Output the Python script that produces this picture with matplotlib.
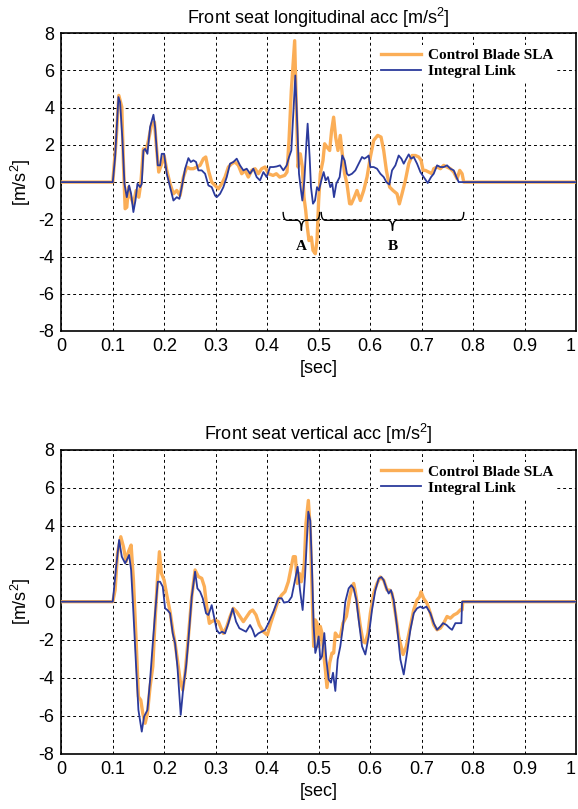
import matplotlib
matplotlib.use("Agg")
import matplotlib.pyplot as plt
from matplotlib.path import Path
from matplotlib.patches import PathPatch

plt.rcParams["font.family"] = ["Liberation Sans", "DejaVu Sans"]
plt.rcParams["mathtext.default"] = "regular"
plt.rcParams["axes.unicode_minus"] = False

'''[1]: data read off the reference'''
lon_t_sla = [0, 0.1, 0.1065, 0.1117, 0.1175, 0.1207, 0.124, 0.1272, 0.1304, 0.135, 0.140, 0.1453, 0.1505,
             0.1544, 0.1595, 0.1647, 0.1693, 0.1757, 0.1809, 0.1854, 0.1893, 0.1951, 0.1997, 0.2049, 0.2113,
             0.2178, 0.2243, 0.2307, 0.2372, 0.2437, 0.2502, 0.2566, 0.2631, 0.2696, 0.2761, 0.2806, 0.2858,
             0.2922, 0.2987, 0.3052, 0.3117, 0.3181, 0.3246, 0.3311, 0.3375, 0.3440, 0.3505, 0.3570, 0.3634,
             0.3699, 0.3764, 0.3828, 0.3893, 0.3958, 0.4023, 0.4114, 0.4178, 0.4243, 0.434, 0.4385, 0.4424,
             0.4469, 0.4534, 0.4566, 0.4599, 0.4644, 0.4683, 0.4715, 0.4748, 0.478, 0.4812, 0.4858, 0.489,
             0.4935, 0.4968, 0.5, 0.5032, 0.5084, 0.5116, 0.5162, 0.5214, 0.5252, 0.5291, 0.533, 0.5375,
             0.542, 0.5459, 0.5505, 0.555, 0.5602, 0.5635, 0.5693, 0.5745, 0.581, 0.5875, 0.594, 0.6005,
             0.6069, 0.6147, 0.6212, 0.6264, 0.6316, 0.638, 0.6445, 0.6523, 0.6568, 0.662, 0.6685, 0.675,
             0.6815, 0.6879, 0.6944, 0.699, 0.7029, 0.7074, 0.7139, 0.7204, 0.7236, 0.7301, 0.7366, 0.743,
             0.7495, 0.756, 0.7625, 0.769, 0.7741, 0.7787, 0.7819, 1.0]
lon_sla = [0, 0, 2.24, 4.66, 4.04, 0.99, -1.43, -1.35, -0.27, -0.81, -1.17, -0.45, -0.81,
           -0.09, 1.79, 1.70, 2.24, 3.14, 3.23, 1.70, 0.54, 0.99, 1.43, 0.63, -0.09,
           -0.63, -0.45, -0.72, 0.27, 0.81, 0.72, 0.72, 0.81, 0.90, 1.26, 1.35, 0.63,
           0, -0.18, -0.36, -0.09, 0.27, 0.81, 0.99, 1.08, 0.90, 0.45, 0.63, 0.27,
           0.63, 0.72, 0.45, 0.72, 0.81, 0.45, 0.36, 0.45, 0.27, 0.36, 0.54, 2.24,
           4.93, 7.6, 4.03, 0.81, 1.52, 0.81, -0.81, -1.52, -2.42, -3.14, -2.96, -3.67,
           -3.85, -3.14, -0.99, 0.45, 1.16, 2.06, 1.88, 1.70, 2.78, 3.49, 2.42, 1.70,
           2.51, 1.52, 0.45, -0.09, -1.16, -1.17, -0.81, -0.45, -0.99, -0.45, 0.27, 1.35,
           2.24, 2.51, 2.42, 1.70, 0.63, -0.27, -0.45, -0.63, -1.17, -0.63, 0.09, 0.99,
           1.43, 1.43, 1.35, 1.17, 0.63, 0.63, 0.54, 0.45, 0.72, 0.81, 0.72, 0.90,
           0.81, 0.72, 0.54, 0.18, 0.63, 0.45, 0, 0]

lon_t_link = [0, 0.1, 0.1045, 0.111, 0.1142, 0.1188, 0.1227, 0.1272, 0.1317, 0.1356, 0.140, 0.144, 0.1479,
              0.1531, 0.1563, 0.1595, 0.1628, 0.1673, 0.1725, 0.179, 0.1822, 0.1874, 0.1919, 0.1951, 0.1997,
              0.2049, 0.2113, 0.2178, 0.2243, 0.2294, 0.234, 0.2405, 0.2469, 0.2515, 0.2566, 0.2618, 0.2663,
              0.2728, 0.2793, 0.2858, 0.2922, 0.2987, 0.3019, 0.3084, 0.3149, 0.3214, 0.3278, 0.3343, 0.3408,
              0.3472, 0.3537, 0.3602, 0.3667, 0.3731, 0.3796, 0.3861, 0.3926, 0.399, 0.4055, 0.412, 0.4184,
              0.4249, 0.4314, 0.4379, 0.4424, 0.4469, 0.4515, 0.4547, 0.4579, 0.4618, 0.4657, 0.4683, 0.4722,
              0.4761, 0.4786, 0.4825, 0.4851, 0.489, 0.4929, 0.4968, 0.5006, 0.5052, 0.5097, 0.5136, 0.5181,
              0.5226, 0.5265, 0.5298, 0.5343, 0.5408, 0.5459, 0.5505, 0.555, 0.5583, 0.5648, 0.5713, 0.5778,
              0.5843, 0.5888, 0.594, 0.5972, 0.6005, 0.6069, 0.6134, 0.6199, 0.6264, 0.6316, 0.6374, 0.6426,
              0.6491, 0.6555, 0.6607, 0.6653, 0.6704, 0.675, 0.6795, 0.6847, 0.6912, 0.6977, 0.7041, 0.7119,
              0.7184, 0.7236, 0.7301, 0.7366, 0.743, 0.7495, 0.756, 0.7625, 0.7677, 0.7722, 1.0]
lon_link = [0, 0, 1.35, 4.57, 4.30, 2.24, -0.09, -0.81, -0.18, -0.63, -1.61, -0.99, -0.09,
            -0.27, -0.09, 1.70, 1.79, 1.52, 2.96, 3.62, 2.96, 0.90, 0.90, 1.52, 1.52,
            0.45, -0.27, -0.99, -0.81, -0.90, -0.27, 0.72, 1.29, 1.08, 1.17, 1.08, 0.63,
            0.63, 0.45, -0.18, -0.27, -0.72, -0.81, -0.63, -0.27, 0.27, 0.99, 1.08, 1.26,
            0.90, 0.63, 0.72, 0.45, 0.72, 0.27, 0.09, 0.54, 0.27, 0.81, 0.81, 0.84,
            0.90, 0.63, 0.90, 1.34, 1.70, 4.03, 5.73, 3.49, 0.45, -0.45, -0.99, 0.09,
            2.06, 3.14, 1.34, -0.27, -1.16, -0.99, -0.27, -0.45, 0.09, 0.54, 0.09, 0.27,
            -0.27, -0.09, -0.81, -0.09, 0.27, 1.43, 1.16, 0.45, 0.36, 0.45, 0.63, 0.99,
            1.35, 1.26, 1.35, 1.43, 0.81, 0.81, 0.72, 0.45, 0.27, 0, -0.13, 0.63,
            0.90, 1.43, 1.26, 0.99, 1.26, 1.49, 1.26, 1.35, 0.99, 0.54, 0.27, -0.05,
            0.27, 0.45, 0.90, 0.81, 0.81, 0.90, 0.72, 0.63, 0.27, 0, 0]

ver_t_sla = [0, 0.1, 0.1045, 0.1091, 0.1155, 0.1207, 0.1259, 0.1304, 0.1356, 0.1401, 0.1453, 0.1498, 0.1544,
             0.1583, 0.1628, 0.1673, 0.1725, 0.1777, 0.1822, 0.1867, 0.1906, 0.1945, 0.1997, 0.2049, 0.2113,
             0.2165, 0.221, 0.2256, 0.2307, 0.2359, 0.2405, 0.2469, 0.2534, 0.2599, 0.2663, 0.2728, 0.278,
             0.2825, 0.2877, 0.2922, 0.2987, 0.3052, 0.3104, 0.3149, 0.3214, 0.3278, 0.3343, 0.3408, 0.3472,
             0.3537, 0.3602, 0.3667, 0.3718, 0.3783, 0.3848, 0.3926, 0.4003, 0.4068, 0.4152, 0.4217, 0.4281,
             0.4346, 0.4411, 0.4456, 0.4508, 0.4547, 0.4586, 0.4625, 0.4663, 0.4689, 0.4722, 0.4754, 0.4800,
             0.4838, 0.487, 0.4903, 0.4935, 0.4968, 0.5, 0.5032, 0.5065, 0.5097, 0.513, 0.5162, 0.5214,
             0.5259, 0.5292, 0.5324, 0.5369, 0.5421, 0.5473, 0.5538, 0.5603, 0.5648, 0.5681, 0.5713, 0.5758,
             0.581, 0.5862, 0.5907, 0.5959, 0.6005, 0.6069, 0.6134, 0.6199, 0.6264, 0.6329, 0.638, 0.6426,
             0.6491, 0.6555, 0.664, 0.6704, 0.6782, 0.6847, 0.6912, 0.6964, 0.699, 0.7041, 0.7106, 0.7171,
             0.7236, 0.7301, 0.7366, 0.743, 0.7495, 0.756, 0.7625, 0.769, 0.7754, 0.7787, 0.78, 1.0]
ver_sla = [0, 0, 0.61, 2.54, 3.42, 2.89, 2.11, 2.63, 2.98, 1.14, -2.02, -5.0, -5.18,
           -5.88, -6.40, -5.88, -4.47, -3.42, -0.96, 1.14, 2.63, 1.49, 1.14, 0.35, -0.53,
           -1.49, -2.19, -3.07, -4.12, -4.65, -3.77, -1.84, 0.26, 1.67, 1.32, 1.23, 0.79,
           -0.26, -1.14, -1.05, -0.96, -1.05, -1.40, -1.67, -1.32, -0.79, -0.35, -0.53, -0.79,
           -1.05, -0.79, -0.53, -0.44, -0.70, -1.23, -1.58, -1.75, -1.14, -0.44, 0.09, 0.35,
           0.53, 1.05, 1.67, 2.37, 2.37, 0.96, 1.49, 1.05, 1.40, 2.02, 4.12, 5.33,
           3.74, 0.78, -2.35, -0.96, -1.13, -2.35, -1.30, -1.65, -2.70, -3.57, -4.52, -3.22,
           -2.70, -2.70, -1.65, -1.83, -1.83, -1.13, -0.78, 0.26, 0.78, 0.96, 0.52, -0.26,
           -1.30, -2.09, -2.17, -1.65, -0.61, 0.43, 0.96, 1.30, 1.13, 0.61, 0.61, 0.43,
           -0.61, -1.83, -2.78, -2.35, -1.30, -0.43, 0.09, 0.26, 0.52, 0.17, -0.09, -0.61,
           -1.22, -1.48, -1.39, -1.13, -0.78, -0.87, -0.70, -0.61, -0.43, -0.43, 0, 0]

ver_t_link = [0, 0.1, 0.1065, 0.1123, 0.1175, 0.124, 0.1272, 0.1317, 0.1356, 0.1401, 0.1453, 0.1498, 0.1563,
              0.1608, 0.1673, 0.1725, 0.1777, 0.1822, 0.1874, 0.1919, 0.1971, 0.2016, 0.2061, 0.2113, 0.2165,
              0.221, 0.2256, 0.232, 0.2372, 0.2424, 0.2469, 0.2534, 0.2599, 0.2644, 0.2696, 0.2748, 0.2812,
              0.2858, 0.2922, 0.2968, 0.3019, 0.3071, 0.3123, 0.3181, 0.3246, 0.333, 0.3395, 0.346, 0.3524,
              0.3589, 0.3667, 0.3718, 0.3764, 0.3828, 0.3893, 0.3958, 0.4023, 0.412, 0.4217, 0.4281, 0.4327,
              0.4411, 0.4476, 0.454, 0.4592, 0.4638, 0.4689, 0.4735, 0.4767, 0.4799, 0.4838, 0.487, 0.4903,
              0.4935, 0.4968, 0.5, 0.5032, 0.5065, 0.511, 0.5149, 0.5194, 0.524, 0.5279, 0.5324, 0.5369,
              0.5421, 0.5473, 0.5518, 0.5583, 0.5635, 0.568, 0.5732, 0.5778, 0.5843, 0.5907, 0.5972, 0.6037,
              0.6102, 0.6167, 0.6218, 0.6264, 0.6316, 0.6361, 0.6406, 0.6458, 0.6523, 0.6588, 0.6653, 0.6717,
              0.6782, 0.6847, 0.6912, 0.6977, 0.7029, 0.7093, 0.7171, 0.7236, 0.7301, 0.7366, 0.7417, 0.7482,
              0.7547, 0.7592, 0.7657, 0.7722, 0.7774, 0.7787, 1.0]
ver_link = [0, 0, 1.84, 3.25, 2.37, 2.02, 2.19, 2.46, 1.67, -0.61, -3.42, -5.70, -6.84,
            -6.05, -5.70, -4.12, -2.19, -0.61, 1.05, 1.05, 0.79, -0.35, -0.44, -0.61, -1.67,
            -2.19, -3.42, -5.96, -4.47, -3.42, -2.02, 0.26, 1.58, 0.70, 0.53, 0.18, -0.61,
            -0.70, -0.18, -0.79, -1.49, -1.67, -1.58, -1.67, -1.14, -0.35, -1.05, -1.40, -1.49,
            -1.58, -1.23, -1.49, -1.84, -1.67, -1.58, -1.49, -1.14, -0.53, 0.18, 0.18, -0.05,
            0, 0.26, 1.14, 1.84, 0.61, -0.44, 1.32, 3.07, 4.74, 4.26, 1.83, -1.30,
            -2.70, -2.35, -1.83, -3.04, -2.87, -1.65, -3.04, -4.09, -4.26, -3.74, -4.70, -3.04,
            -2.35, -1.30, 0, 0.70, 0.87, 0.70, 0.09, -0.96, -2.35, -2.78, -1.83, -0.43,
            0.61, 1.22, 1.30, 1.13, 0.70, 0.43, 0.61, 0.09, -1.30, -3.04, -3.83, -2.70,
            -1.48, -0.61, -0.35, -0.26, -0.35, -0.26, -0.61, -1.13, -1.48, -1.30, -1.13, -1.22,
            -1.39, -1.48, -1.13, -1.13, -1.13, 0, 0]

series_names = ["Control Blade SLA", "Integral Link"]
titles = ["Front seat longitudinal acc [m/s$^2$]", "Front seat vertical acc [m/s$^2$]"]
x_ticks = [0, 0.1, 0.2, 0.3, 0.4, 0.5, 0.6, 0.7, 0.8, 0.9, 1]
x_tick_labels = ["0", "0.1", "0.2", "0.3", "0.4", "0.5", "0.6", "0.7", "0.8", "0.9", "1"]
y_ticks = [-8, -6, -4, -2, 0, 2, 4, 6, 8]

'''braces under the longitudinal trace: (label, start, end)'''
brace_spans = [("A", 0.431, 0.502), ("B", 0.505, 0.782)]

ORANGE = "#FBAE57"
BLUE = "#2B3A9C"


def draw_brace(ax, x0, x1, y_top=-1.6, y_mid=-2.05, y_tip=-2.6, d=0.008):
    xc = (x0 + x1) / 2
    verts = [(x0, y_top), (x0, y_mid), (x0 + d, y_mid),
             (xc - d, y_mid), (xc, y_mid), (xc, y_tip),
             (xc, y_mid), (xc + d, y_mid),
             (x1 - d, y_mid), (x1, y_mid), (x1, y_top)]
    codes = [Path.MOVETO, Path.CURVE3, Path.CURVE3,
             Path.LINETO, Path.CURVE3, Path.CURVE3,
             Path.CURVE3, Path.CURVE3,
             Path.LINETO, Path.CURVE3, Path.CURVE3]
    ax.add_patch(PathPatch(Path(verts, codes), fill=False, color="black", lw=1.0, zorder=4))


def style_axes(ax, title):
    ax.set_xlim(0, 1)
    ax.set_ylim(-8, 8)
    ax.set_xticks(x_ticks)
    ax.set_xticklabels(x_tick_labels)
    ax.get_xticklabels()[-1].set_horizontalalignment("right")  # "1" sits flush with the edge
    ax.set_yticks(y_ticks)
    ax.grid(True, color="black", linestyle=(0, (3, 3)), linewidth=0.7)
    ax.tick_params(direction="in", length=0, labelsize=13, pad=5)
    for s in ax.spines.values():
        s.set_linewidth(1.2)
    ax.set_title(title, fontsize=13, pad=7)
    ax.set_xlabel("[sec]", fontsize=13, labelpad=4)
    ax.set_ylabel("[m/s$^2$]", fontsize=13, labelpad=4)
    leg = ax.legend(loc="upper left", bbox_to_anchor=(0.6, 0.985), frameon=True,
                    prop={"family": "Liberation Serif", "weight": "bold", "size": 11},
                    handlelength=2.6, handletextpad=0.5, labelspacing=0.15, borderpad=0.2)
    leg.get_frame().set_edgecolor("none")
    leg.get_frame().set_facecolor("white")
    leg.get_frame().set_alpha(1)


fig = plt.figure(figsize=(5.78, 8.09), dpi=100)
ax1 = fig.add_axes([0.1061, 0.5909, 0.8904, 0.368])
ax2 = fig.add_axes([0.1061, 0.0684, 0.8904, 0.3757])

'''[2]: longitudinal'''
ax1.plot(lon_t_sla, lon_sla, color=ORANGE, lw=2.4, label=series_names[0], zorder=3)
ax1.plot(lon_t_link, lon_link, color=BLUE, lw=1.3, label=series_names[1], zorder=3)
style_axes(ax1, titles[0])
for name, x0, x1 in brace_spans:
    draw_brace(ax1, x0, x1)
    ax1.text((x0 + x1) / 2, -3.45, name, ha="center", va="center",
             family="Liberation Serif", weight="bold", fontsize=11)

'''[3]: vertical'''
ax2.plot(ver_t_sla, ver_sla, color=ORANGE, lw=2.4, label=series_names[0], zorder=3)
ax2.plot(ver_t_link, ver_link, color=BLUE, lw=1.3, label=series_names[1], zorder=3)
style_axes(ax2, titles[1])

fig.savefig("out.png", dpi=100)
